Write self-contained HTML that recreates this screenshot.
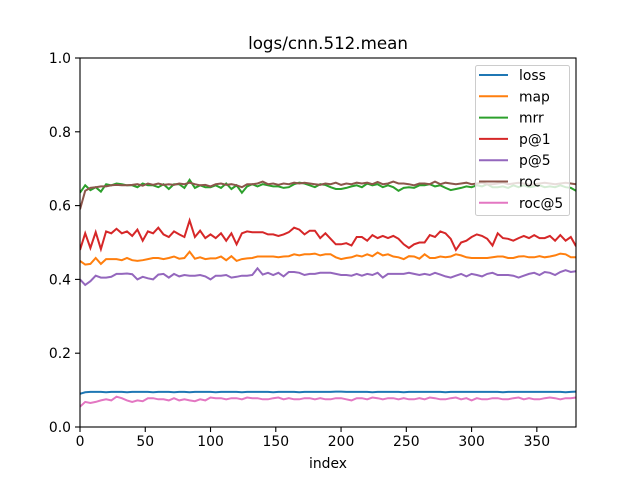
<!DOCTYPE html>
<html><head><meta charset="utf-8"><style>
body{margin:0;background:#fff;}
svg text{font-family:"DejaVu Sans","Liberation Sans",sans-serif;fill:#000;}
</style></head><body>
<svg id="chart" width="640" height="480" xmlns="http://www.w3.org/2000/svg">
<rect width="640" height="480" fill="#fff"/>
<g id="plot"></g>
<g id="axes"></g>
</svg>
<script>
const xStep = 4;
const lossVals = [0.090,0.094,0.095,0.095,0.095,0.094,0.095,0.095,0.095,0.094,0.095,0.095,0.095,0.095,0.094,0.095,0.095,0.095,0.094,0.095,0.095,0.094,0.095,0.095,0.095,0.095,0.094,0.095,0.095,0.095,0.095,0.094,0.095,0.095,0.095,0.095,0.095,0.094,0.095,0.095,0.095,0.095,0.094,0.095,0.095,0.095,0.095,0.095,0.095,0.096,0.096,0.095,0.095,0.095,0.095,0.095,0.094,0.095,0.095,0.095,0.095,0.095,0.094,0.095,0.095,0.095,0.095,0.095,0.095,0.095,0.094,0.095,0.095,0.095,0.095,0.095,0.095,0.095,0.095,0.095,0.095,0.094,0.095,0.095,0.095,0.095,0.095,0.095,0.095,0.095,0.095,0.095,0.095,0.094,0.095,0.096];
const mapVals = [0.450,0.440,0.442,0.458,0.442,0.455,0.455,0.455,0.452,0.458,0.452,0.450,0.452,0.455,0.458,0.458,0.455,0.458,0.462,0.456,0.458,0.475,0.456,0.460,0.455,0.457,0.457,0.462,0.452,0.463,0.450,0.455,0.457,0.458,0.462,0.462,0.462,0.462,0.460,0.462,0.463,0.468,0.465,0.468,0.468,0.470,0.465,0.468,0.468,0.460,0.455,0.458,0.460,0.465,0.462,0.468,0.463,0.473,0.465,0.468,0.462,0.460,0.455,0.463,0.462,0.456,0.468,0.458,0.458,0.462,0.460,0.462,0.468,0.465,0.460,0.458,0.458,0.458,0.458,0.460,0.462,0.462,0.458,0.458,0.462,0.463,0.460,0.460,0.463,0.460,0.462,0.465,0.470,0.468,0.460,0.460];
const mrrVals = [0.635,0.655,0.642,0.650,0.638,0.658,0.655,0.660,0.658,0.655,0.655,0.650,0.660,0.655,0.655,0.650,0.658,0.645,0.658,0.658,0.648,0.670,0.648,0.655,0.650,0.650,0.655,0.648,0.660,0.645,0.655,0.635,0.652,0.658,0.652,0.658,0.655,0.652,0.652,0.648,0.650,0.658,0.662,0.660,0.655,0.650,0.658,0.656,0.650,0.645,0.645,0.648,0.652,0.655,0.650,0.660,0.655,0.658,0.650,0.655,0.650,0.640,0.648,0.650,0.648,0.655,0.655,0.658,0.652,0.655,0.648,0.642,0.645,0.648,0.652,0.650,0.655,0.652,0.658,0.650,0.650,0.652,0.648,0.655,0.650,0.655,0.650,0.652,0.655,0.650,0.652,0.650,0.655,0.650,0.648,0.640];
const p1Vals = [0.480,0.525,0.485,0.528,0.482,0.530,0.525,0.537,0.525,0.530,0.518,0.535,0.505,0.530,0.525,0.540,0.522,0.515,0.530,0.522,0.515,0.560,0.515,0.532,0.512,0.522,0.512,0.525,0.505,0.525,0.495,0.525,0.530,0.528,0.528,0.528,0.522,0.522,0.518,0.522,0.528,0.540,0.535,0.522,0.532,0.532,0.512,0.525,0.510,0.495,0.495,0.498,0.492,0.515,0.515,0.505,0.520,0.512,0.518,0.512,0.518,0.510,0.495,0.485,0.495,0.500,0.500,0.520,0.515,0.530,0.525,0.510,0.480,0.500,0.505,0.515,0.522,0.518,0.510,0.492,0.525,0.512,0.510,0.505,0.512,0.518,0.512,0.520,0.512,0.512,0.518,0.505,0.520,0.505,0.515,0.490];
const p5Vals = [0.400,0.385,0.395,0.410,0.405,0.405,0.407,0.415,0.415,0.416,0.414,0.400,0.407,0.403,0.400,0.413,0.415,0.405,0.415,0.408,0.412,0.410,0.410,0.412,0.408,0.400,0.410,0.410,0.412,0.405,0.407,0.410,0.410,0.412,0.430,0.413,0.418,0.412,0.418,0.408,0.420,0.420,0.418,0.412,0.415,0.415,0.418,0.418,0.418,0.415,0.412,0.412,0.410,0.415,0.410,0.415,0.412,0.418,0.405,0.415,0.415,0.415,0.415,0.418,0.415,0.412,0.415,0.412,0.418,0.413,0.408,0.405,0.410,0.415,0.408,0.415,0.412,0.408,0.415,0.418,0.412,0.412,0.412,0.410,0.405,0.410,0.415,0.418,0.412,0.420,0.418,0.412,0.420,0.425,0.420,0.422];
const rocVals = [0.590,0.640,0.648,0.650,0.652,0.652,0.655,0.656,0.655,0.655,0.656,0.658,0.654,0.660,0.656,0.660,0.656,0.658,0.656,0.660,0.658,0.662,0.658,0.655,0.656,0.652,0.658,0.660,0.656,0.658,0.655,0.650,0.658,0.658,0.660,0.665,0.658,0.660,0.656,0.660,0.658,0.662,0.660,0.662,0.660,0.658,0.656,0.660,0.658,0.662,0.656,0.660,0.658,0.662,0.660,0.662,0.658,0.664,0.658,0.660,0.665,0.660,0.660,0.658,0.655,0.660,0.660,0.658,0.665,0.658,0.662,0.660,0.658,0.660,0.662,0.658,0.660,0.662,0.658,0.658,0.660,0.662,0.658,0.660,0.662,0.660,0.656,0.658,0.660,0.662,0.660,0.658,0.660,0.662,0.660,0.658];
const roc5Vals = [0.055,0.068,0.065,0.068,0.072,0.075,0.072,0.082,0.078,0.072,0.068,0.072,0.070,0.078,0.078,0.075,0.075,0.072,0.078,0.072,0.075,0.072,0.070,0.075,0.072,0.080,0.078,0.078,0.075,0.078,0.078,0.075,0.080,0.078,0.078,0.075,0.075,0.078,0.080,0.075,0.078,0.075,0.075,0.078,0.078,0.075,0.078,0.075,0.075,0.078,0.078,0.075,0.072,0.078,0.078,0.075,0.080,0.078,0.075,0.078,0.078,0.075,0.078,0.075,0.075,0.078,0.075,0.080,0.078,0.075,0.075,0.078,0.080,0.075,0.078,0.072,0.078,0.075,0.075,0.078,0.078,0.075,0.075,0.078,0.080,0.075,0.078,0.075,0.075,0.078,0.080,0.078,0.075,0.078,0.078,0.080];
const seriesNames = ["loss","map","mrr","p@1","p@5","roc","roc@5"];
const seriesData = [lossVals,mapVals,mrrVals,p1Vals,p5Vals,rocVals,roc5Vals];
const seriesColors = ["#1f77b4","#ff7f0e","#2ca02c","#d62728","#9467bd","#8c564b","#e377c2"];
const xTicks = [0,50,100,150,200,250,300,350];
const yTicks = [0,0.2,0.4,0.6,0.8,1.0];

const L=80,R=576,T=58,B=427, XMAX=380;
const sx = v => L + v/XMAX*(R-L);
const sy = v => B - v*(B-T);
const NS="http://www.w3.org/2000/svg";
function mk(tag, attrs, parent){const e=document.createElementNS(NS,tag);for(const k in attrs)e.setAttribute(k,attrs[k]);parent.appendChild(e);return e;}
const plot=document.getElementById('plot'), axes=document.getElementById('axes');
const clip=mk('clipPath',{id:'cp'},plot); mk('rect',{x:L,y:T,width:R-L,height:B-T},clip);
seriesData.forEach((arr,i)=>{
  const pts=arr.map((v,j)=>sx(j*xStep).toFixed(1)+','+sy(v).toFixed(1)).join(' ');
  const pl=mk('polyline',{points:pts,fill:'none',stroke:seriesColors[i],'stroke-width':2,'clip-path':'url(#cp)'},plot);
  
  
});
const frame=mk('rect',{x:L,y:T,width:R-L,height:B-T,fill:'none',stroke:'#000','stroke-width':1.1},axes);


xTicks.forEach(t=>{
  mk('line',{x1:sx(t),x2:sx(t),y1:B,y2:B+5,stroke:'#000','stroke-width':1.1},axes);
  const tx=mk('text',{x:sx(t),y:B+19,'font-size':13.9,'text-anchor':'middle'},axes);tx.textContent=t;
  
  
});
yTicks.forEach(t=>{
  mk('line',{x1:L-5,x2:L,y1:sy(t),y2:sy(t),stroke:'#000','stroke-width':1.1},axes);
  const tx=mk('text',{x:L-9,y:sy(t)+5,'font-size':13.9,'text-anchor':'end'},axes);tx.textContent=t.toFixed(1);
  
  
});
const title=mk('text',{x:328,y:49,'font-size':16.7,'text-anchor':'middle'},axes);title.textContent='logs/cnn.512.mean';


const xl=mk('text',{x:328,y:468,'font-size':13.9,'text-anchor':'middle'},axes);xl.textContent='index';


const lg=mk('g',{},axes);


mk('rect',{x:475.5,y:65.5,width:94,height:150,rx:2,fill:'#fff','fill-opacity':0.8,stroke:'#ccc','stroke-width':1},lg);
seriesNames.forEach((n,i)=>{
  const y=75+i*21.3;
  const g=mk('g',{},lg);
  
  
  mk('line',{x1:479,x2:508,y1:y,y2:y,stroke:seriesColors[i],'stroke-width':2},g);
  const t=mk('text',{x:519,y:y+5,'font-size':13.9},g);t.textContent=n;
});
</script>
</body></html>
